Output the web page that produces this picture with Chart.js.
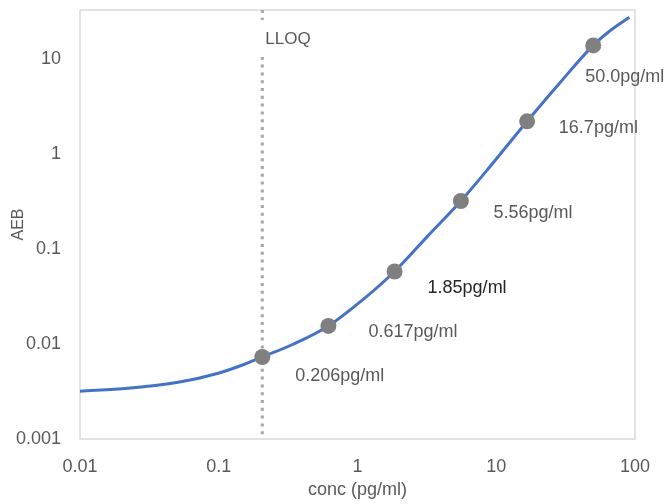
<!DOCTYPE html>
<html>
<head>
<meta charset="utf-8">
<script src="https://cdn.jsdelivr.net/npm/chart.js@4/dist/chart.umd.min.js"></script>
<style>
html,body{margin:0;padding:0;background:#fff;}
#wrap{width:672px;height:504px;position:relative;}
</style>
</head>
<body>
<div id="wrap"><canvas id="c" width="672" height="504"></canvas></div>
<script>
// ---- data ----
const CURVE_CONC = [0.01, 0.0222, 0.051, 0.0992, 0.155, 0.206, 0.347, 0.617, 1.05, 1.85, 3.18, 5.56, 9.64, 16.7, 29.2, 50, 67.1, 91];
const CURVE_AEB  = [0.00318, 0.00342, 0.00395, 0.00492, 0.00616, 0.0073, 0.0100, 0.0155, 0.0279, 0.058, 0.135, 0.32, 0.83, 2.21, 5.77, 13.9, 20.2, 27.5];
const STD_CONC   = [0.206, 0.617, 1.85, 5.56, 16.7, 50.0];
const STD_AEB    = [0.0073, 0.0155, 0.058, 0.32, 2.21, 13.9];
const STD_LABELS = ["0.206pg/ml", "0.617pg/ml", "1.85pg/ml", "5.56pg/ml", "16.7pg/ml", "50.0pg/ml"];
const LLOQ_CONC  = 0.206;
const LLOQ_TEXT  = "LLOQ";
const X_TICKS    = [0.01, 0.1, 1, 10, 100];
const Y_TICKS    = [0.001, 0.01, 0.1, 1, 10];
const X_MIN = 0.01, X_MAX = 100, Y_MIN = 0.001, Y_MAX = 32.8;
const X_TITLE = "conc (pg/ml)";
const Y_TITLE = "AEB";

// ---- styling (not data) ----
const FONT = "'Liberation Sans', Arial, sans-serif";
const TEXT = "#595959";
const LABEL_OFFSETS = [[33,19],[40,6],[33,16.5],[32.5,12],[31.7,6.7],[-8,31.7]];
const LABEL_COLORS = [TEXT, TEXT, "#262626", TEXT, TEXT, TEXT];

const framePlugin = {
  id: 'frame',
  beforeDatasetsDraw(chart) {
    const {ctx, chartArea: a} = chart;
    ctx.save();
    ctx.strokeStyle = '#d4d4d4';
    ctx.lineWidth = 1.3;
    ctx.strokeRect(a.left, a.top, a.right - a.left, a.bottom - a.top);
    ctx.restore();
  }
};

const labelPlugin = {
  id: 'labels',
  afterDatasetsDraw(chart) {
    const {ctx, chartArea: a} = chart;
    const xs = chart.scales.x;
    ctx.save();
    // LLOQ label with white box
    const lx = xs.getPixelForValue(LLOQ_CONC);
    ctx.fillStyle = '#fff';
    ctx.fillRect(lx - 4, a.top + 10, 56, 37);
    ctx.fillStyle = TEXT;
    ctx.font = "17px " + FONT;
    ctx.textAlign = 'left';
    ctx.textBaseline = 'middle';
    ctx.fillText(LLOQ_TEXT, lx + 3, a.top + 29);
    // point labels
    ctx.font = "18px " + FONT;
    const meta = chart.getDatasetMeta(0);
    meta.data.forEach((pt, i) => {
      const [dx, dy] = LABEL_OFFSETS[i];
      ctx.fillStyle = LABEL_COLORS[i];
      ctx.fillText(STD_LABELS[i], pt.x + dx, pt.y + dy);
    });
    ctx.restore();
  }
};

new Chart(document.getElementById('c'), {
  type: 'scatter',
  data: {
    datasets: [
      {
        label: 'standards',
        data: STD_CONC.map((x, i) => ({x, y: STD_AEB[i]})),
        pointRadius: 8,
        pointHoverRadius: 8,
        pointBackgroundColor: '#808080',
        pointBorderWidth: 0,
        showLine: false
      },
      {
        label: 'fit',
        data: CURVE_CONC.map((x, i) => ({x, y: CURVE_AEB[i]})),
        showLine: true,
        borderColor: '#4472C4',
        borderWidth: 3,
        pointRadius: 0,
        cubicInterpolationMode: 'monotone'
      },
      {
        label: 'LLOQ',
        data: [{x: LLOQ_CONC, y: Y_MAX}, {x: LLOQ_CONC, y: Y_MIN}],
        showLine: true,
        borderColor: '#a6a6a6',
        borderWidth: 3,
        borderDash: [3, 4.8],
        pointRadius: 0
      }
    ]
  },
  options: {
    responsive: false,
    animation: false,
    layout: {padding: {left: 0, right: 37, top: 10, bottom: 0}},
    plugins: {legend: {display: false}, tooltip: {enabled: false}},
    scales: {
      x: {
        type: 'logarithmic',
        min: X_MIN, max: X_MAX,
        grid: {display: false, drawTicks: false},
        border: {display: false},
        afterBuildTicks: s => { s.ticks = X_TICKS.map(v => ({value: v})); },
        afterFit: s => { s.height = 65; s.paddingLeft = 0; s.paddingRight = 0; },
        ticks: {
          autoSkip: false, maxRotation: 0, padding: 17,
          color: TEXT, font: {family: FONT, size: 18},
          callback: v => String(v)
        },
        title: {display: true, text: X_TITLE, color: TEXT, font: {family: FONT, size: 18}, padding: {top: 0, bottom: 3}}
      },
      y: {
        type: 'logarithmic',
        min: Y_MIN, max: Y_MAX,
        grid: {display: false, drawTicks: false},
        border: {display: false},
        afterBuildTicks: s => { s.ticks = Y_TICKS.map(v => ({value: v})); },
        afterFit: s => { s.width = 80; s.paddingTop = 0; s.paddingBottom = 0; },
        ticks: {
          autoSkip: false, padding: 19,
          color: TEXT, font: {family: FONT, size: 18},
          callback: v => String(v)
        },
        title: {display: true, text: Y_TITLE, color: TEXT, font: {family: FONT, size: 16}, padding: {top: 9, bottom: 0}}
      }
    }
  },
  plugins: [framePlugin, labelPlugin]
});
</script>
</body>
</html>
